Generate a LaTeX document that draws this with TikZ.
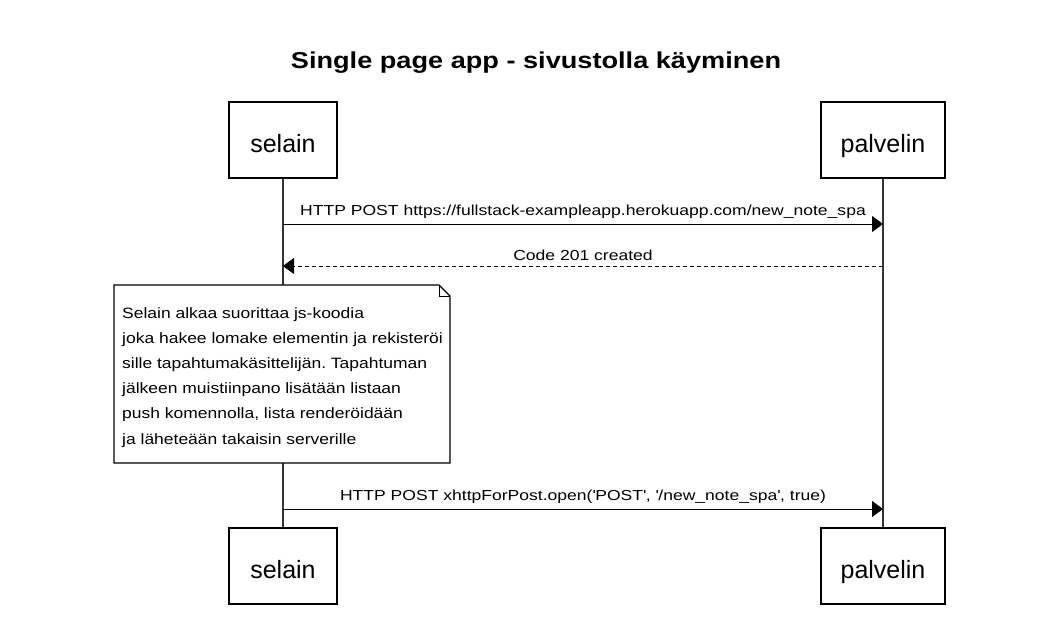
\documentclass[tikz,border=0pt]{standalone}
\usepackage{fontspec}
\setmainfont{Liberation Sans}
\newfontfamily\titlefont[FakeStretch=1.18]{Liberation Sans Bold}
\newfontfamily\msgfont[FakeStretch=1.21]{Liberation Sans}
\newfontfamily\notefont[FakeStretch=1.165]{Liberation Sans}
\usetikzlibrary{arrows.meta,positioning}
\frenchspacing

\begin{document}
\begin{tikzpicture}[x=1pt, y=-1pt, every node/.style={font=\msgfont\fontsize{14.5}{17}\selectfont},
    actor/.style={draw, line width=1.1pt, minimum width=108pt, minimum height=76pt, text height=24pt, text depth=0pt,
        font=\fontsize{25}{29}\selectfont},
    msg/.style={line width=0.9pt, -{Triangle[length=11pt,width=16pt]}},
    lbl/.style={anchor=base, yshift=9pt, inner sep=0pt},
    life/.style={line width=1.2pt, black!80}]
    \useasboundingbox (0,0) rectangle (1051,618);
    % Title
    \node[anchor=base, font=\titlefont\fontsize{23}{27}\selectfont] (title) at (536,68) {Single page app - sivustolla käyminen};
    % Participants
    \node[actor] (selainT) at (283,140) {selain};
    \node[actor, minimum width=124pt] (palvelinT) at (883,140) {palvelin};
    \node[actor] (selainB) at (283,566) {selain};
    \node[actor, minimum width=124pt] (palvelinB) at (883,566) {palvelin};
    % Lifelines
    \draw[life] (selainT.south) -- (selainB.north);
    \draw[life] (palvelinT.south) -- (palvelinB.north);
    % Messages
    \coordinate (m1s) at (selainT.south |- 0,224);
    \coordinate (m1e) at (palvelinT.south |- 0,224);
    \draw[msg] (m1s) -- node[lbl] (m1) {HTTP POST https://fullstack-exampleapp.herokuapp.com/new\_note\_spa} (m1e);
    \coordinate (m2s) at (palvelinT.south |- 0,266);
    \coordinate (m2e) at (selainT.south |- 0,266);
    \draw[msg, dash pattern=on 4pt off 3pt] (m2s) -- node[lbl, yshift=-3pt] (m2) {Code 201 created} (m2e);
    % Note
    \draw[line width=1.1pt, fill=white] (114,285) -- (439,285) -- (450,296) -- (450,463) -- (114,463) -- cycle;
    \draw[line width=1pt] (439,285) -- (439,296) -- (450,296);
    \node[anchor=north west, inner sep=0pt, align=left, font=\notefont\fontsize{15}{25.2}\selectfont] (note) at (122,307)
        {Selain alkaa suorittaa js-koodia\\
         joka hakee lomake elementin ja rekisteröi\\
         sille tapahtumakäsittelijän. Tapahtuman\\
         jälkeen muistiinpano lisätään listaan\\
         push komennolla, lista renderöidään\\
         ja läheteään takaisin serverille};
    \coordinate (m3s) at (selainT.south |- 0,509);
    \coordinate (m3e) at (palvelinT.south |- 0,509);
    \draw[msg] (m3s) -- node[lbl] (m3) {HTTP POST xhttpForPost.open(\textquotesingle POST\textquotesingle, \textquotesingle/new\_note\_spa\textquotesingle, true)} (m3e);
\end{tikzpicture}
\end{document}
